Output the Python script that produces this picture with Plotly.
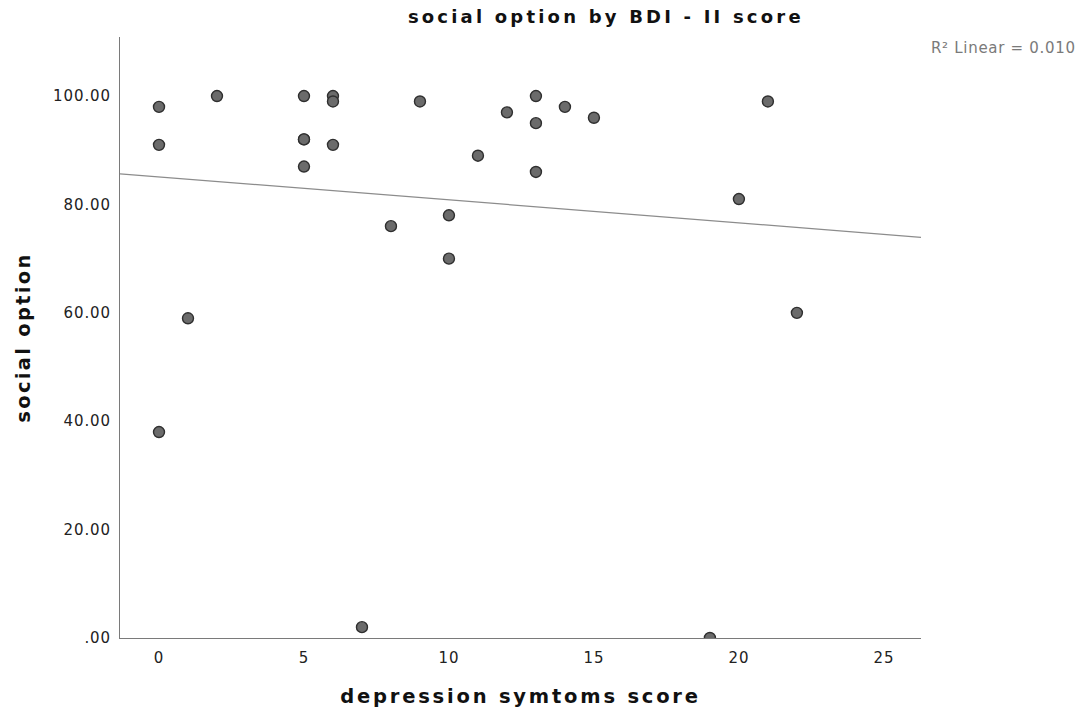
import numpy as np
import plotly.graph_objects as go

# BDI-II depression score vs. social option score (one respondent pair repeats at 5 / 92)
bdi_score = [0, 0, 0, 1, 2, 5, 5, 5, 5, 6, 6, 6, 7, 8, 9, 10, 10, 11, 12, 13, 13, 13, 14, 15, 19, 20, 21, 22]
social_option = [98, 91, 38, 59, 100, 100, 92, 92, 87, 100, 99, 91, 2, 76, 99, 78, 70, 89, 97, 100, 95, 86, 98, 96, 0, 81, 99, 60]

y_ticks = [0, 20, 40, 60, 80, 100]
y_tick_text = [".00", "20.00", "40.00", "60.00", "80.00", "100.00"]
x_ticks = [0, 5, 10, 15, 20, 25]
x_tick_text = ["0", "5", "10", "15", "20", "25"]

x_range = [-1.345, 26.28]
y_range = [0, 110.9]

# linear fit across the full x-axis
xa = np.array(bdi_score, dtype=float)
ya = np.array(social_option, dtype=float)
slope, intercept = np.polyfit(xa, ya, 1)
pred = slope * xa + intercept
r2 = 1 - np.sum((ya - pred) ** 2) / np.sum((ya - ya.mean()) ** 2)
fit_x = np.array(x_range)
fit_y = slope * fit_x + intercept

font = "DejaVu Sans, sans-serif"


def spaced(text, px, bold=True):
    inner = f"<b>{text}</b>" if bold else text
    return f'<span style="letter-spacing:{px}px">{inner}</span>'


fig = go.Figure()
fig.add_trace(go.Scatter(
    x=fit_x, y=fit_y, mode="lines",
    line=dict(color="#8c8c8c", width=1.2),
    hoverinfo="skip", showlegend=False,
))
fig.add_trace(go.Scatter(
    x=bdi_score, y=social_option, mode="markers",
    marker=dict(size=11, color="#6b6b6b", line=dict(color="#2f2f2f", width=1.4)),
    showlegend=False,
))

fig.update_layout(
    width=1078, height=709,
    margin=dict(l=120, r=157, t=37, b=71),
    paper_bgcolor="white", plot_bgcolor="white",
    font=dict(family=font, color="#222"),
    title=dict(text=spaced("social option by BDI - II score", 3.2), x=0.562, xanchor="center",
               y=0.976, yanchor="middle", font=dict(size=18, color="#111")),
    xaxis=dict(
        range=x_range, tickvals=x_ticks, ticktext=[spaced(t, 0.8, False) for t in x_tick_text],
        showgrid=False, zeroline=False, automargin=False,
        showline=True, linecolor="#7a7a7a", linewidth=1, ticks="",
        tickfont=dict(size=15, color="#222"), ticklabelstandoff=6,
        title=dict(text=spaced("depression symtoms score", 2.8), font=dict(size=19.5, color="#111"), standoff=23),
    ),
    yaxis=dict(
        range=y_range, tickvals=y_ticks, ticktext=[spaced(t, 0.9, False) for t in y_tick_text],
        showgrid=False, zeroline=False, automargin=False,
        showline=True, linecolor="#7a7a7a", linewidth=1, ticks="",
        tickfont=dict(size=15, color="#222"), ticklabelstandoff=5,
        title=dict(text=spaced("social option", 2.3), font=dict(size=19.5, color="#111"), standoff=17),
    ),
    annotations=[dict(
        text=spaced(f"R\u00b2 Linear = {r2:.3f}", 0.7, False), xref="paper", yref="paper",
        x=1.0, xanchor="left", xshift=8, y=0.981, yanchor="middle",
        showarrow=False, font=dict(size=15, color="#7a7a7a"),
    )],
)

fig.write_html("out.html")
